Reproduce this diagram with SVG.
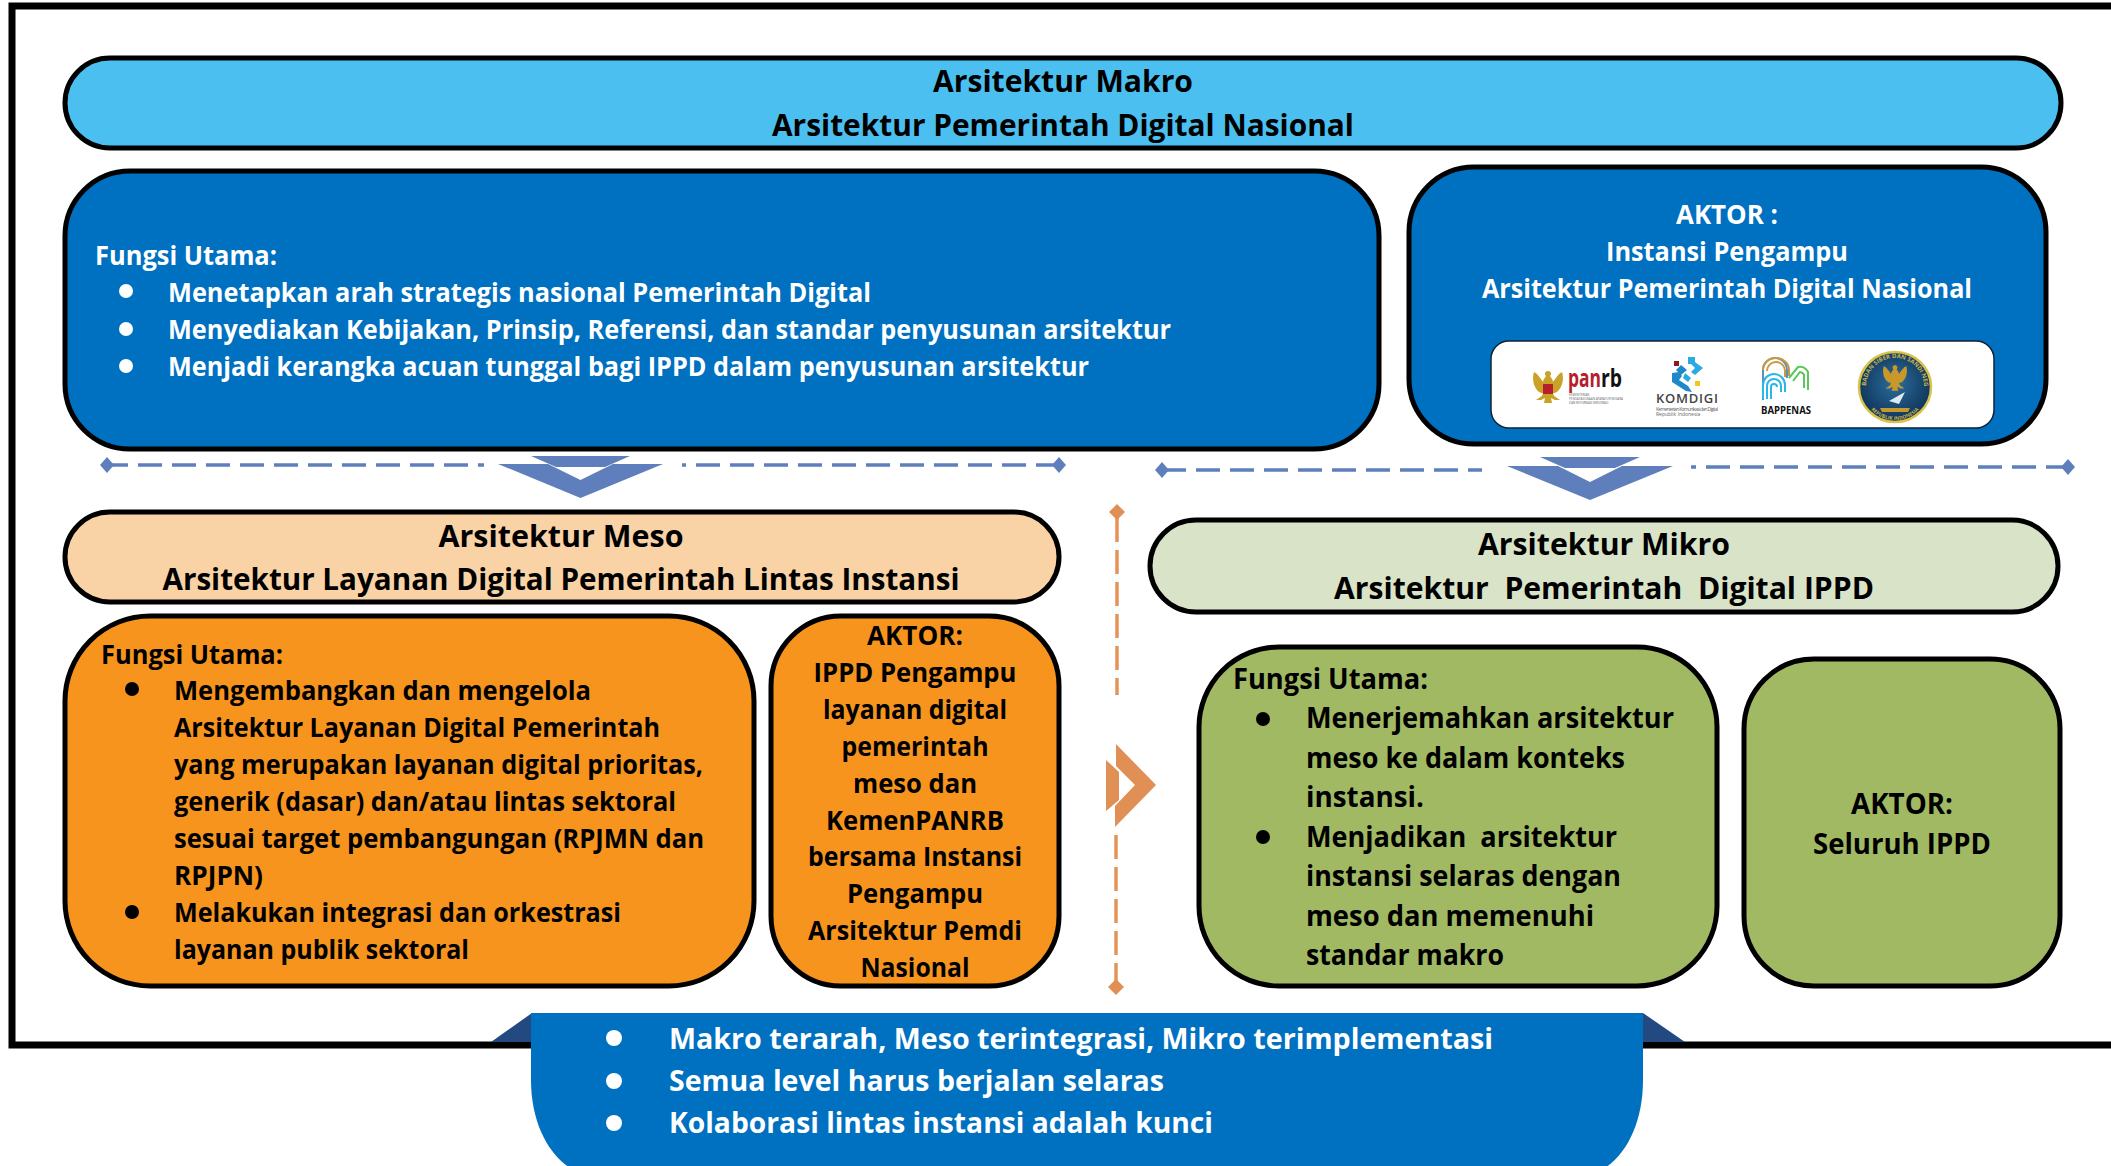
<svg xmlns="http://www.w3.org/2000/svg" xmlns:xlink="http://www.w3.org/1999/xlink" width="2111" height="1166" viewBox="0 0 2111 1166">
<defs>
<radialGradient id="seal" cx="50%" cy="45%" r="55%"><stop offset="0" stop-color="#2A6E9E"/><stop offset="1" stop-color="#0F3358"/></radialGradient>
<path id="garuda" d="M0-16C3-16 4-13 2-11 4-8 5-7 5-5 8-9 10-13 14-15 16-9 15 0 9 5 7 6 6 6 5 6L6 9 12 13 7 13 3 11 4 16-4 16-3 11-7 13-12 13-6 9-5 6C-6 6-7 6-9 5-15 0-16-9-14-15-10-13-8-9-5-5-5-7-4-8-2-11-4-13-3-16 0-16z"/>
<path id="arch" d="M0 42V12A12 12 0 0 1 24 12V20" fill="none" stroke-width="2"/>
<path id="ringtop" d="M1866 387A29 29 0 0 1 1924 387"/>
<path id="ringbot" d="M1862 387A33 33 0 0 0 1928 387"/>
</defs>
<style>
text{font-family:"Open Sans","Noto Sans","Liberation Sans",sans-serif;font-weight:700}
.box{stroke:#000;stroke-width:5}
.h{font-size:30px;fill:#000;text-anchor:middle}
.b{font-size:27px;fill:#000}
.m{font-size:28.500px}
.f{font-size:29px}
.w{fill:#fff}
.c{text-anchor:middle}
.blue{fill:#0070C0}
.dotb{fill:#5E7FBC}
.dasb{stroke:#5E7FBC;stroke-width:3.500;stroke-dasharray:24 10;fill:none}
.daso{stroke:#E69358;stroke-width:3.500;stroke-dasharray:24 8;fill:none}
.doto{fill:#E08F55}
.tiny{font-weight:400;fill:#666}
</style>
<rect width="2111" height="1166" fill="#fff"/>
<path id="frame" d="M2111 6H12V1045H2111" fill="none" stroke="#000" stroke-width="7"/>
<g id="connectors">
<path class="dasb" d="M104 465H484M1060 465H682"/>
<path class="dotb" d="M100 465l7-8 7 8-7 8zM1052 465l7-8 7 8-7 8z"/>
<path class="dasb" d="M1162 470H1482M2070 467H1691"/>
<path class="dotb" d="M1155 470l7-8 7 8-7 8zM2061 467l7-8 7 8-7 8z"/>
<path class="dotb" d="M531 456H630L605 467H556zM498 464H548L580.500 480 613 464H663L580.500 498zM1540 457H1640L1615 468H1565zM1507 466H1558L1590 482 1622 466H1673L1590 500z"/>
<path class="daso" d="M1117 518V695M1116 835V984"/>
<path class="doto" d="M1117 504l8 8-8 8-8-8zM1116 979l8 8-8 8-8-8z"/>
<path class="doto" d="M1116 744L1156 785 1115 827V806L1135 785 1116 766zM1106 760L1119 772V800L1106 811z"/>
</g>
<g id="makro"><rect class="box" x="65" y="58" width="1996" height="90" rx="45" fill="#4BC0F0"/>
<text class="h" x="1063" y="92" textLength="260" lengthAdjust="spacingAndGlyphs">Arsitektur Makro</text><text class="h" x="1063" y="136" textLength="582" lengthAdjust="spacingAndGlyphs">Arsitektur Pemerintah Digital Nasional</text></g>
<g id="makro-fungsi"><rect class="box blue" x="65" y="171" width="1314" height="278" rx="65"/>
<text class="b w" x="95" y="265" textLength="182" lengthAdjust="spacingAndGlyphs">Fungsi Utama:</text>
<g fill="#fff"><circle cx="126" cy="291" r="7"/><circle cx="126" cy="329" r="7"/><circle cx="126" cy="366" r="7"/></g>
<text class="b w" x="168" y="302" textLength="703" lengthAdjust="spacingAndGlyphs">Menetapkan arah strategis nasional Pemerintah Digital</text>
<text class="b w" x="168" y="339" textLength="1003" lengthAdjust="spacingAndGlyphs">Menyediakan Kebijakan, Prinsip, Referensi, dan standar penyusunan arsitektur</text>
<text class="b w" x="168" y="376" textLength="921" lengthAdjust="spacingAndGlyphs">Menjadi kerangka acuan tunggal bagi IPPD dalam penyusunan arsitektur</text></g>
<g id="makro-aktor"><rect class="box blue" x="1409" y="167" width="637" height="277" rx="65"/>
<text class="b w c" x="1727" y="224" textLength="102" lengthAdjust="spacingAndGlyphs">AKTOR :</text><text class="b w c" x="1727" y="261" textLength="242" lengthAdjust="spacingAndGlyphs">Instansi Pengampu</text><text class="b w c" x="1727" y="298" textLength="490" lengthAdjust="spacingAndGlyphs">Arsitektur Pemerintah Digital Nasional</text>
<rect x="1491" y="341" width="503" height="87" rx="18" fill="#fff" stroke="#123" stroke-width="1.500"/></g>
<g id="logo-panrb">
<use xlink:href="#garuda" x="1548" y="387" fill="#C9A227"/>
<rect x="1543" y="384" width="10" height="10" fill="#B5202C"/>
<text x="1568" y="387" style="font-size:25px" fill="#B5202C" textLength="33" lengthAdjust="spacingAndGlyphs">pan</text>
<text x="1601" y="387" style="font-size:25px" fill="#111" textLength="21" lengthAdjust="spacingAndGlyphs">rb</text>
<text class="tiny" x="1569" y="396" style="font-size:3px">KEMENTERIAN</text>
<text class="tiny" x="1569" y="400" style="font-size:3px" textLength="54">PENDAYAGUNAAN APARATUR NEGARA</text>
<text class="tiny" x="1569" y="404" style="font-size:3px">DAN REFORMASI BIROKRASI</text>
</g>
<g id="logo-komdigi">
<path fill="#8B1A1A" d="M1674 361h5v5h-5z"/>
<path fill="#1E88C9" d="M1681 365l6 5-6 5-5-5zM1672 373l7-1 3 4-3 4 9 6 4 6-6-1-14-9z"/>
<path fill="#29ABE2" d="M1688 357h7v7h-7zM1695 362l8 6-8 7-4-3 4-4-4-4zM1685 373l6 5-3 4-5-4z"/>
<path fill="#F5C518" d="M1695 381h5v5h-5z"/>
<text x="1656" y="403" style="font-size:13px;font-weight:600" fill="#444" textLength="62">KOMDIGI</text>
<text class="tiny" x="1656" y="411" style="font-size:5px" textLength="62">Kementerian Komunikasi dan Digital</text>
<text class="tiny" x="1656" y="416" style="font-size:5px">Republik Indonesia</text>
</g>
<g id="logo-bappenas">
<g stroke="#C99A3F"><use xlink:href="#arch" x="1763" y="358" stroke="#5B8FC4"/><path d="M1763 370A13 12 0 0 1 1789 370V376M1767 371A9 9 0 0 1 1785 371V377" fill="none" stroke-width="2"/></g>
<path d="M1789 378L1798 367A9 9 0 0 1 1808 372V390M1793 381L1800 372A5 5 0 0 1 1804 375V388" fill="none" stroke="#58C85A" stroke-width="2"/>
<path d="M1763 399V385A11 11 0 0 1 1785 385V392M1767 399V386A7 7 0 0 1 1781 386V392M1771 399V387A3 3 0 0 1 1777 387" fill="none" stroke="#29B6E8" stroke-width="2"/>
<text x="1761" y="414" style="font-size:11px" fill="#111" textLength="50" lengthAdjust="spacingAndGlyphs">BAPPENAS</text>
</g>
<g id="logo-bssn">
<ellipse cx="1895" cy="387" rx="36" ry="35" fill="url(#seal)" stroke="#D9C24A" stroke-width="2.500"/>
<use xlink:href="#garuda" transform="translate(1895 378) scale(.8)" fill="#C9982B"/>
<path d="M1889 401L1905 392 1899 404z" fill="#DDEAF0"/>
<path d="M1880 408H1910L1908 412H1882z" fill="#C9982B"/>
<text style="font-size:6px" fill="#C9B24A"><textPath xlink:href="#ringtop" startOffset="1">BADAN SIBER DAN SANDI NEGARA</textPath></text>
<text style="font-size:5px" fill="#C9B24A" class="c"><textPath xlink:href="#ringbot" startOffset="50%">REPUBLIK INDONESIA</textPath></text>
</g>
<g id="meso"><rect class="box" x="65" y="512" width="994" height="90" rx="45" fill="#F9D3A5"/>
<text class="h" x="561" y="547" textLength="245" lengthAdjust="spacingAndGlyphs">Arsitektur Meso</text><text class="h" x="561" y="590" textLength="797" lengthAdjust="spacingAndGlyphs">Arsitektur Layanan Digital Pemerintah Lintas Instansi</text></g>
<g id="meso-fungsi"><rect class="box" x="65" y="616" width="689" height="370" rx="85" fill="#F7941D"/>
<g fill="#000"><circle cx="132" cy="689" r="7"/><circle cx="132" cy="912" r="7"/></g>
<text class="b" x="101" y="664" textLength="182" lengthAdjust="spacingAndGlyphs">Fungsi Utama:</text>
<text class="b" x="174" y="700" textLength="417" lengthAdjust="spacingAndGlyphs">Mengembangkan dan mengelola</text>
<text class="b" x="174" y="737" textLength="486" lengthAdjust="spacingAndGlyphs">Arsitektur Layanan Digital Pemerintah</text>
<text class="b" x="174" y="774" textLength="529" lengthAdjust="spacingAndGlyphs">yang merupakan layanan digital prioritas,</text>
<text class="b" x="174" y="811" textLength="502" lengthAdjust="spacingAndGlyphs">generik (dasar) dan/atau lintas sektoral</text>
<text class="b" x="174" y="848" textLength="530" lengthAdjust="spacingAndGlyphs">sesuai target pembangungan (RPJMN dan</text>
<text class="b" x="174" y="885" textLength="89" lengthAdjust="spacingAndGlyphs">RPJPN)</text>
<text class="b" x="174" y="922" textLength="447" lengthAdjust="spacingAndGlyphs">Melakukan integrasi dan orkestrasi</text>
<text class="b" x="174" y="959" textLength="295" lengthAdjust="spacingAndGlyphs">layanan publik sektoral</text></g>
<g id="meso-aktor"><rect class="box" x="771" y="616" width="288" height="370" rx="70" fill="#F7941D"/>
<text class="b c" x="915" y="645" textLength="96" lengthAdjust="spacingAndGlyphs">AKTOR:</text><text class="b c" x="915" y="682" textLength="203" lengthAdjust="spacingAndGlyphs">IPPD Pengampu</text><text class="b c" x="915" y="719" textLength="184" lengthAdjust="spacingAndGlyphs">layanan digital</text><text class="b c" x="915" y="756" textLength="147" lengthAdjust="spacingAndGlyphs">pemerintah</text><text class="b c" x="915" y="793" textLength="124" lengthAdjust="spacingAndGlyphs">meso dan</text><text class="b c" x="915" y="830" textLength="178" lengthAdjust="spacingAndGlyphs">KemenPANRB</text><text class="b c" x="915" y="866" textLength="214" lengthAdjust="spacingAndGlyphs">bersama Instansi</text><text class="b c" x="915" y="903" textLength="136" lengthAdjust="spacingAndGlyphs">Pengampu</text><text class="b c" x="915" y="940" textLength="214" lengthAdjust="spacingAndGlyphs">Arsitektur Pemdi</text><text class="b c" x="915" y="977" textLength="109" lengthAdjust="spacingAndGlyphs">Nasional</text></g>
<g id="mikro"><rect class="box" x="1150" y="520" width="908" height="92" rx="46" fill="#D9E3C7"/>
<text class="h" x="1604" y="555" textLength="252" lengthAdjust="spacingAndGlyphs">Arsitektur Mikro</text><text class="h" x="1604" y="599" textLength="540" lengthAdjust="spacingAndGlyphs" style="white-space:pre">Arsitektur  Pemerintah  Digital IPPD</text></g>
<g id="mikro-fungsi"><rect class="box" x="1199" y="647" width="518" height="339" rx="80" fill="#A2B964"/>
<g fill="#000"><circle cx="1263" cy="719" r="7"/><circle cx="1263" cy="837" r="7"/></g>
<text class="b m" x="1233" y="689" textLength="195" lengthAdjust="spacingAndGlyphs">Fungsi Utama:</text>
<text class="b m" x="1306" y="728" textLength="368" lengthAdjust="spacingAndGlyphs">Menerjemahkan arsitektur</text>
<text class="b m" x="1306" y="768" textLength="319" lengthAdjust="spacingAndGlyphs">meso ke dalam konteks</text>
<text class="b m" x="1306" y="807" textLength="118" lengthAdjust="spacingAndGlyphs">instansi.</text>
<text class="b m" x="1306" y="847" textLength="311" lengthAdjust="spacingAndGlyphs" style="white-space:pre">Menjadikan  arsitektur</text>
<text class="b m" x="1306" y="886" textLength="315" lengthAdjust="spacingAndGlyphs">instansi selaras dengan</text>
<text class="b m" x="1306" y="926" textLength="288" lengthAdjust="spacingAndGlyphs">meso dan memenuhi</text>
<text class="b m" x="1306" y="965" textLength="198" lengthAdjust="spacingAndGlyphs">standar makro</text></g>
<g id="mikro-aktor"><rect class="box" x="1744" y="659" width="316" height="327" rx="70" fill="#A2B964"/>
<text class="b m c" x="1902" y="814" textLength="102" lengthAdjust="spacingAndGlyphs">AKTOR:</text><text class="b m c" x="1902" y="854" textLength="178" lengthAdjust="spacingAndGlyphs">Seluruh IPPD</text></g>
<g id="kesimpulan">
<path d="M491 1042L532 1013H1643L1685 1042z" fill="#224A80"/>
<path class="blue" d="M531 1013H1643V1080C1643 1130 1620 1166 1590 1175H585C555 1166 531 1130 531 1080z"/>
<g fill="#fff"><circle cx="614" cy="1038" r="8"/><circle cx="614" cy="1081" r="8"/><circle cx="614" cy="1123" r="8"/></g>
<text class="b f w" x="669" y="1049" textLength="824" lengthAdjust="spacingAndGlyphs">Makro terarah, Meso terintegrasi, Mikro terimplementasi</text>
<text class="b f w" x="669" y="1091" textLength="495" lengthAdjust="spacingAndGlyphs">Semua level harus berjalan selaras</text>
<text class="b f w" x="669" y="1133" textLength="544" lengthAdjust="spacingAndGlyphs">Kolaborasi lintas instansi adalah kunci</text>
</g>
</svg>
